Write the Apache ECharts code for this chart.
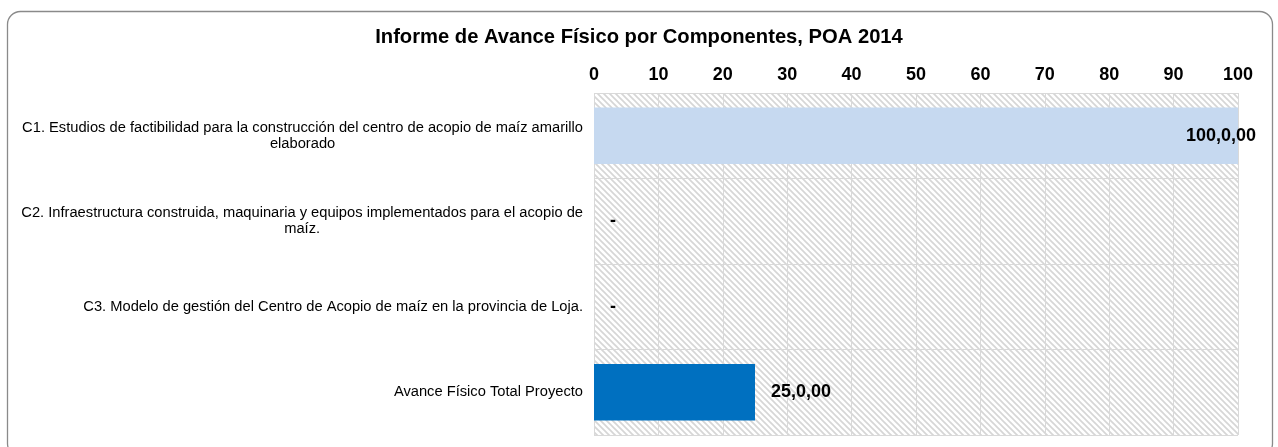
<!DOCTYPE html>
<html>
<head>
<meta charset="utf-8">
<script src="https://cdn.jsdelivr.net/npm/echarts@6/dist/echarts.min.js"></script>
<style>
html,body{margin:0;padding:0;background:#fff;}
#c{width:1278px;height:447px;}
</style>
</head>
<body>
<div id="c"></div>
<script>
const titleText = 'Informe de Avance Físico por Componentes, POA 2014';
const categories = [
  'C1. Estudios de factibilidad para la construcción del centro de acopio de maíz amarillo elaborado',
  'C2. Infraestructura construida, maquinaria y equipos implementados para el acopio de maíz.',
  'C3. Modelo de gestión del Centro de Acopio de maíz en la provincia de Loja.',
  'Avance Físico Total Proyecto'
];
const values = [100, 0, 0, 25];
const valueLabels = ['100,0,00', '-', '-', '25,0,00'];
const barColors = ['#c6d9f0', '#c6d9f0', '#c6d9f0', '#0070c0'];
const xTicks = [0, 10, 20, 30, 40, 50, 60, 70, 80, 90, 100];

const FONT = '"Liberation Sans", Arial, sans-serif';
const CAT_SIZE = 14.7;

// hatch pattern
const pc = document.createElement('canvas');
pc.width = 6; pc.height = 6;
const pctx = pc.getContext('2d');
pctx.fillStyle = '#ffffff';
pctx.fillRect(0, 0, 6, 6);
pctx.strokeStyle = '#d6d6d6';
pctx.lineWidth = 1.7;
for (let k = -6; k <= 6; k += 6) {
  pctx.beginPath();
  pctx.moveTo(k - 1, -1);
  pctx.lineTo(k + 7, 7);
  pctx.stroke();
}

// word wrap for category labels
const mc = document.createElement('canvas').getContext('2d');
mc.font = CAT_SIZE + 'px ' + FONT;
function wrap(text, maxW) {
  const words = text.split(' ');
  const lines = [];
  let cur = '';
  words.forEach(w => {
    const t = cur ? cur + ' ' + w : w;
    if (mc.measureText(t).width > maxW && cur) { lines.push(cur); cur = w; }
    else cur = t;
  });
  if (cur) lines.push(cur);
  return lines;
}

const maxVal = xTicks[xTicks.length - 1];
const seriesData = values.map((v, i) => {
  const item = { value: v };
  if (v >= maxVal) item.label = { position: 'insideRight', offset: [34, 0] };
  return item;
});

const chart = echarts.init(document.getElementById('c'), null, { renderer: 'canvas' });
chart.setOption({
  animation: false,
  backgroundColor: '#fff',
  title: {
    text: titleText,
    left: 'center',
    top: 22,
    textStyle: { fontFamily: FONT, fontSize: 20.2, fontWeight: 'bold', color: '#000' }
  },
  graphic: [{
    type: 'rect',
    shape: { x: 7.5, y: 11.5, width: 1265, height: 445, r: 13 },
    style: { fill: 'none', stroke: '#8a8a8a', lineWidth: 1.3 },
    z: 100, silent: true
  }],
  grid: {
    left: 594, right: 40, top: 93, bottom: 12,
    show: true,
    borderWidth: 0,
    backgroundColor: { image: pc, repeat: 'repeat' }
  },
  xAxis: {
    type: 'value',
    position: 'top',
    min: 0, max: 100, interval: 10,
    axisLine: { show: false },
    axisTick: { show: false },
    axisLabel: {
      margin: 9,
      fontFamily: FONT, fontSize: 18, fontWeight: 'bold', color: '#000',
      formatter: v => xTicks.indexOf(v) >= 0 ? String(v) : ''
    },
    splitLine: { show: true, lineStyle: { color: '#d9d9d9', width: 1 } }
  },
  yAxis: {
    type: 'category',
    inverse: true,
    data: categories,
    axisLine: { show: false },
    axisTick: { show: false },
    splitLine: { show: true, lineStyle: { color: '#d9d9d9', width: 1 } },
    axisLabel: {
      margin: 11,
      color: '#000',
      fontFamily: FONT, fontSize: CAT_SIZE,
      formatter: v => wrap(v, 570).map(l => '{c|' + l + '}').join('\n'),
      rich: { c: { align: 'center', fontFamily: FONT, fontSize: CAT_SIZE, lineHeight: 16, color: '#000' } }
    }
  },
  series: [{
    type: 'bar',
    data: seriesData,
    barWidth: '66%',
    itemStyle: { color: p => barColors[p.dataIndex] },
    label: {
      show: true,
      position: 'right',
      distance: 16,
      fontFamily: FONT, fontSize: 18, fontWeight: 'bold', color: '#000',
      formatter: p => valueLabels[p.dataIndex]
    }
  }]
});
</script>
</body>
</html>
